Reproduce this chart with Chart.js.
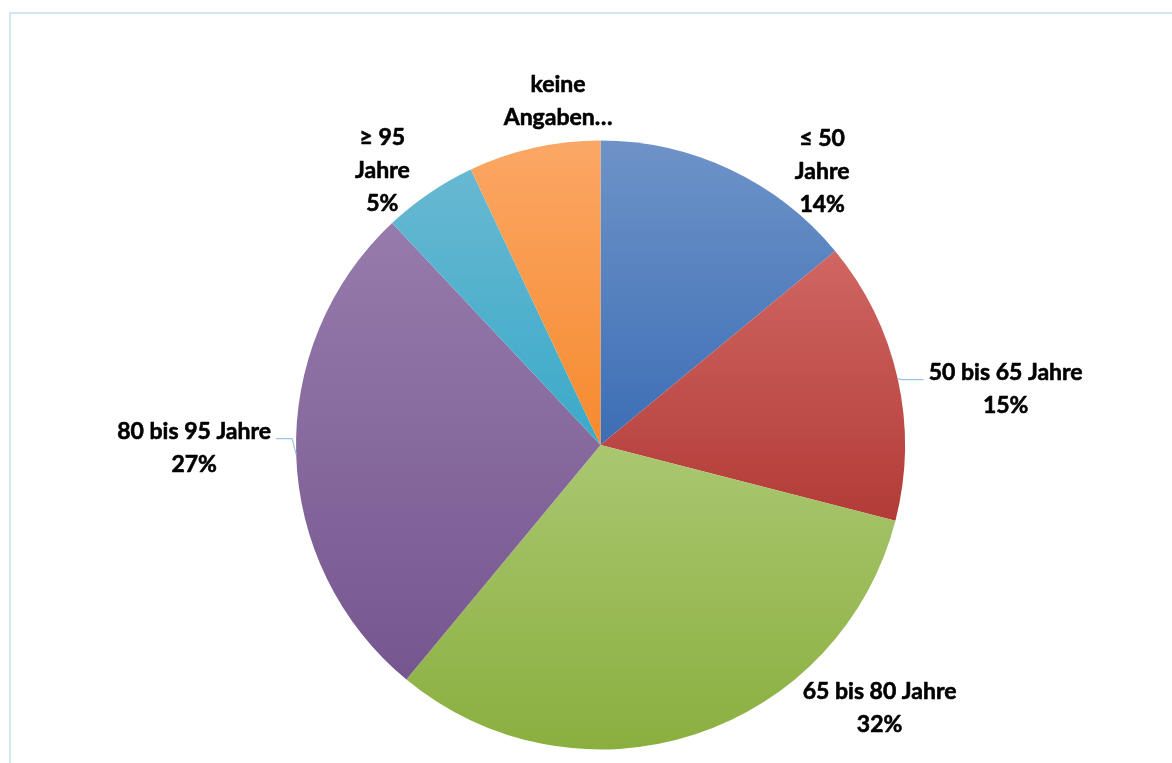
<!DOCTYPE html>
<html lang="de">
<head>
<meta charset="utf-8">
<title>Altersverteilung</title>
<script src="https://cdn.jsdelivr.net/npm/chart.js@4.4.1/dist/chart.umd.min.js"></script>
<style>
    html, body { margin: 0; padding: 0; background: #ffffff; overflow: hidden; }
    /* light chart frame, runs off the right and bottom edge */
    #chartFrame {
        position: absolute; left: 9px; top: 12px;
        width: 1220px; height: 820px;
        border: 2px solid #d5e3f4; box-sizing: border-box;
    }
    #chartWrap { position: absolute; left: 0; top: 0; width: 1172px; height: 763px; }
</style>
</head>
<body>
<div id="chartFrame"></div>
<div id="chartWrap"><canvas id="ageChart" width="1172" height="763"></canvas></div>

<script>
// Age groups, in clockwise order starting at 12 o'clock
const categories = ["≤ 50 Jahre", "50 bis 65 Jahre", "65 bis 80 Jahre", "80 bis 95 Jahre", "≥ 95 Jahre", "keine Angaben"];

// Share of each group in percent
const values = [14, 15, 32, 27, 5, 7];

// Label text as it is wrapped next to each slice
const labelLines = [
    ["≤ 50", "Jahre"],
    ["50 bis 65 Jahre"],
    ["65 bis 80 Jahre"],
    ["80 bis 95 Jahre"],
    ["≥ 95", "Jahre"],
    ["keine", "Angaben…"]
];
// last label is cut off, so no percentage under it
const showPercent = [true, true, true, true, true, false];


// SLICE COLOURS (top -> bottom of every slice)
const sliceColors = [
    ["#6e93c8", "#3c6eb5"],
    ["#d06662", "#b23b37"],
    ["#aac770", "#8aaf3f"],
    ["#967bac", "#76568f"],
    ["#68b8d2", "#3aaac8"],
    ["#fba765", "#f68a2e"]
];

// Label placement relative to the slice's mid point on the rim
const labelShift = [[92, 2], [108, 11], [185, -27], [-102, -6], [-47, -23], [24, -47]];
const hasLeader = [false, true, false, true, false, false];

const LABEL_FONT = "bold 23px Lato";
const LINE_H = 33;


// Vertical gradient spanning only the slice itself
function SliceGradient(context) {
    const i = context.dataIndex;
    const area = context.chart.chartArea;
    if (i === undefined || !area) {
        return sliceColors[0][0];
    }

    const cx = (area.left + area.right) / 2;
    const cy = (area.top + area.bottom) / 2;
    const r = Math.min(area.width, area.height) / 2;

    const total = values.reduce((a, b) => a + b, 0);
    const before = values.slice(0, i).reduce((a, b) => a + b, 0);
    const a0 = -Math.PI / 2 + 2 * Math.PI * before / total;
    const a1 = a0 + 2 * Math.PI * values[i] / total;

    // top and bottom of the sector
    const ys = [cy, cy + r * Math.sin(a0), cy + r * Math.sin(a1)];
    if (a0 < Math.PI / 2 && a1 > Math.PI / 2) ys.push(cy + r);
    if (a0 < 3 * Math.PI / 2 && a1 > 3 * Math.PI / 2) ys.push(cy - r);
    const yTop = Math.min(...ys);
    const yBottom = Math.max(...ys);

    const grad = context.chart.ctx.createLinearGradient(0, yTop, 0, yBottom);
    grad.addColorStop(0, sliceColors[i][0]);
    grad.addColorStop(1, sliceColors[i][1]);
    return grad;
}


// Outside labels with name and percentage, plus leader lines
const sliceLabels = {
    id: "sliceLabels",
    afterDatasetsDraw(chart) {
        const ctx = chart.ctx;
        const meta = chart.getDatasetMeta(0);

        ctx.save();
        ctx.font = LABEL_FONT;
        ctx.textAlign = "center";
        ctx.textBaseline = "middle";

        meta.data.forEach((arc, i) => {
            const p = arc.getProps(["x", "y", "startAngle", "endAngle", "outerRadius"], true);
            const mid = (p.startAngle + p.endAngle) / 2;
            const rimX = p.x + p.outerRadius * Math.cos(mid);
            const rimY = p.y + p.outerRadius * Math.sin(mid);

            const lx = rimX + labelShift[i][0];
            const ly = rimY + labelShift[i][1];

            const lines = labelLines[i].slice();
            if (showPercent[i]) {
                lines.push(values[i] + "%");
            }

            // leader line from the rim to the label's side
            if (hasLeader[i]) {
                const side = Math.sign(labelShift[i][0]);
                const widest = Math.max(...lines.map(t => ctx.measureText(t).width));
                const edgeX = lx - side * (widest / 2 + 5);
                const leaderY = ly - 10;
                ctx.strokeStyle = "#9dc3e6";
                ctx.lineWidth = 1.2;
                ctx.beginPath();
                ctx.moveTo(rimX, rimY);
                ctx.lineTo(rimX + side * 4, leaderY);
                ctx.lineTo(edgeX, leaderY);
                ctx.stroke();
            }

            // thin outline makes the bold face a bit heavier
            ctx.fillStyle = "#000000";
            ctx.strokeStyle = "#000000";
            ctx.lineWidth = 0.6;
            ctx.lineJoin = "round";
            const firstY = ly - (lines.length - 1) * LINE_H / 2;
            lines.forEach((t, k) => {
                ctx.fillText(t, lx, firstY + k * LINE_H);
                ctx.strokeText(t, lx, firstY + k * LINE_H);
            });
        });

        ctx.restore();
    }
};


const ageCtx = document.getElementById("ageChart").getContext("2d");

var agePie = new Chart(ageCtx, {
    type: "pie",
    data: {
        labels: categories,
        datasets: [{
            data: values,
            backgroundColor: SliceGradient,
            borderWidth: 0
        }]
    },
    options: {
        responsive: false,
        animation: false,
        layout: {
            padding: { top: 140, bottom: 13, left: 296, right: 267 }
        },
        plugins: {
            legend: { display: false },
            tooltip: { enabled: false }
        }
    },
    plugins: [sliceLabels]
});
</script>
</body>
</html>
